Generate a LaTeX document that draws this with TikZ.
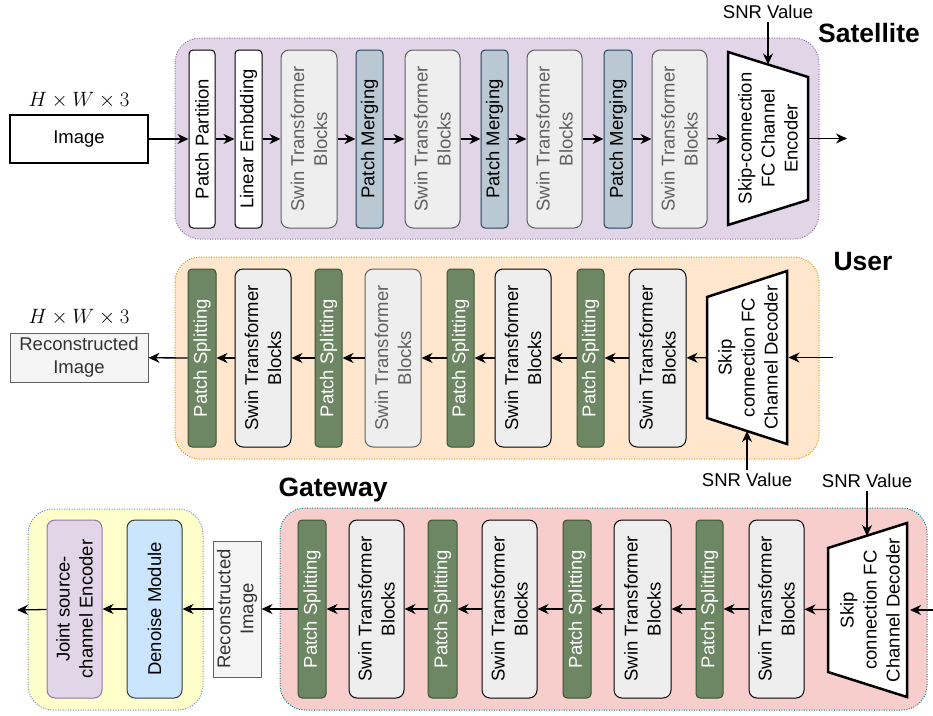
\documentclass[tikz,border=0pt]{standalone}
\usepackage{fontspec}
\setmainfont{Liberation Sans}
\usetikzlibrary{arrows.meta}
\definecolor{satfill}{HTML}{E1D5E7}
\definecolor{satdraw}{HTML}{9673A6}
\definecolor{userfill}{HTML}{FFE6CC}
\definecolor{userdraw}{HTML}{D79B00}
\definecolor{gwfill}{HTML}{F8CECC}
\definecolor{gwdraw}{HTML}{0E8088}
\definecolor{yelfill}{HTML}{FFFFCC}
\definecolor{yeldraw}{HTML}{6C8EBF}
\definecolor{mergefill}{HTML}{BAC8D3}
\definecolor{mergedraw}{HTML}{23445D}
\definecolor{splitfill}{HTML}{6D8764}
\definecolor{splitdraw}{HTML}{3A5431}
\definecolor{swinfill}{HTML}{EEEEEE}
\definecolor{graytxt}{HTML}{606060}
\definecolor{reconfill}{HTML}{F5F5F5}
\definecolor{recontxt}{HTML}{333333}
\definecolor{denfill}{HTML}{CCE5FF}
\definecolor{dendraw}{HTML}{36393D}
\newcommand\fs{\fontsize{18.5}{23}\selectfont}
\newcommand\ttl{\fontsize{26.5}{30}\bfseries\selectfont}
% vertical (rotated) block: style, name, x1, x2, y1, y2, text
\newcommand\vblk[7]{\node[#1, rotate=90, minimum width={(#6-#5)*1pt}, minimum height={(#4-#3)*1pt}] (#2) at ({(#3+#4)/2},{(#5+#6)/2}) {#7};}
% horizontal block
\newcommand\hblk[7]{\node[#1, minimum width={(#4-#3)*1pt}, minimum height={(#6-#5)*1pt}] (#2) at ({(#3+#4)/2},{(#5+#6)/2}) {#7};}
\tikzset{
  blk/.style={line width=1pt, align=center, inner sep=0pt, font=\fs},
  wbox/.style={blk, draw=black, fill=white, text=black, rounded corners=4pt},
  merge/.style={blk, draw=mergedraw, fill=mergefill, text=black, rounded corners=4pt},
  split/.style={blk, draw=splitdraw, fill=splitfill, text=white, rounded corners=4pt},
  swing/.style={blk, draw=graytxt, fill=swinfill, text=graytxt, rounded corners=8pt},
  swinb/.style={blk, draw=black, fill=swinfill, text=black, rounded corners=8pt},
  recon/.style={blk, draw=graytxt, fill=reconfill, text=recontxt},
  plainbox/.style={blk, draw=black, fill=white, text=black, line width=1.3pt},
  denoise/.style={blk, draw=dendraw, fill=denfill, text=black, rounded corners=8pt},
  joint/.style={blk, draw=satdraw, fill=satfill, text=black, rounded corners=8pt},
  traptext/.style={blk},
  trapline/.style={draw=black, fill=white, line width=2.5pt, line join=miter},
  panel/.style={line width=1pt, dash pattern=on 1pt off 1.5pt, rounded corners=25pt},
  conn/.style={line width=1.3pt, -{Stealth[length=11pt,width=10pt,inset=3.5pt]}},
  dimlabel/.style={font=\fontsize{22}{26}\selectfont},
}
\begin{document}
\begin{tikzpicture}[x=1pt,y=-1pt, font=\fs]
\useasboundingbox (0,0) rectangle (933,715);
% panels
\draw[panel, fill=satfill, draw=satdraw] (175,38) rectangle (819,239);
\draw[panel, fill=userfill, draw=userdraw] (175,257) rectangle (819,459);
\draw[panel, fill=yelfill, draw=yeldraw] (28,509) rectangle (203,710);
\draw[panel, fill=gwfill, draw=gwdraw] (280,508) rectangle (927,710);

% titles
\node[font=\ttl] (tsat) at (869,33) {Satellite};
\node[font=\ttl] (tuser) at (863,262) {User};
\node[font=\ttl] (tgw) at (333,490) {Gateway};
\node[dimlabel] (dim1) at (79,100) {$H\times W\times 3$};
\node[dimlabel] (dim2) at (79,317) {$H\times W\times 3$};

% ===== Satellite row =====
\hblk{plainbox}{img}{10}{148}{115}{163}{Image}
\vblk{wbox}{pp}{189}{215}{50}{228}{Patch Partition}
\vblk{wbox}{le}{235}{262}{50}{228}{Linear Embdding}
\vblk{swing}{sa}{281}{337}{50}{228}{Swin Transformer\\Blocks}
\vblk{merge}{ma}{356}{383}{50}{228}{Patch Merging}
\vblk{swing}{sb}{405}{460}{50}{228}{Swin Transformer\\Blocks}
\vblk{merge}{mb}{481}{508}{50}{228}{Patch Merging}
\vblk{swing}{sc}{527}{582}{50}{228}{Swin Transformer\\Blocks}
\vblk{merge}{mc}{604}{632}{50}{228}{Patch Merging}
\vblk{swing}{sd}{652}{707}{50}{228}{Swin Transformer\\Blocks}
\draw[trapline] (728,52) -- (808,77) -- (808,200) -- (728,225) -- cycle;
\node[traptext, rotate=90, minimum width=173pt, minimum height=80pt] (enc) at (768,138.5) {Skip-connection\\FC Channel\\Encoder};
\coordinate (encout) at (847,138.5);
\node (snr1) at (768,12) {SNR Value};
\coordinate (snrt1) at (768,64.5);

\draw[conn] (img) -- (pp);
\draw[conn] (pp) -- (le);
\draw[conn] (le) -- (sa);
\draw[conn] (sa) -- (ma);
\draw[conn] (ma) -- (sb);
\draw[conn] (sb) -- (mb);
\draw[conn] (mb) -- (sc);
\draw[conn] (sc) -- (mc);
\draw[conn] (mc) -- (sd);
\draw[conn] (sd) -- (enc);
\draw[conn] (enc) -- (encout);
\draw[conn] (snr1) -- (snrt1);

% ===== User row =====
\hblk{recon}{rec1}{10}{148}{333}{382}{Reconstructed\\Image}
\vblk{split}{ua}{188}{216}{269}{447}{Patch Splitting}
\vblk{swinb}{ub}{235}{291}{269}{447}{Swin Transformer\\Blocks}
\vblk{split}{uc}{315}{342}{269}{447}{Patch Splitting}
\vblk{swing}{ud}{365}{421}{269}{447}{Swin Transformer\\Blocks}
\vblk{split}{ue}{447}{474}{269}{447}{Patch Splitting}
\vblk{swinb}{uf}{495}{551}{269}{447}{Swin Transformer\\Blocks}
\vblk{split}{ug}{577}{604}{269}{447}{Patch Splitting}
\vblk{swinb}{uh}{629}{686}{269}{447}{Swin Transformer\\Blocks}
\draw[trapline] (707,297) -- (787,271) -- (787,444) -- (707,418) -- cycle;
\node[traptext, rotate=90, minimum width=173pt, minimum height=80pt] (dec1) at (748,357.5) {Skip\\connection FC\\Channel Decoder};
\coordinate (decin1) at (833,357.5);
\node (snr2) at (747,480) {SNR Value};
\coordinate (snrt2) at (747,431);

\draw[conn] (decin1) -- (dec1);
\draw[conn] (dec1) -- (uh);
\draw[conn] (uh) -- (ug);
\draw[conn] (ug) -- (uf);
\draw[conn] (uf) -- (ue);
\draw[conn] (ue) -- (ud);
\draw[conn] (ud) -- (uc);
\draw[conn] (uc) -- (ub);
\draw[conn] (ub) -- (ua);
\draw[conn] (ua) -- (rec1);
\draw[conn] (snr2) -- (snrt2);

% ===== Gateway row =====
\vblk{joint}{ja}{47}{102}{520}{698}{Joint source-\\channel Encoder}
\vblk{denoise}{dn}{127}{182}{520}{698}{Denoise Module}
\vblk{recon}{rec2}{213}{261}{541}{677}{Reconstructed\\Image}
\vblk{split}{ga}{298}{326}{520}{698}{Patch Splitting}
\vblk{swinb}{gb}{349}{404}{520}{698}{Swin Transformer\\Blocks}
\vblk{split}{gc}{428}{457}{520}{698}{Patch Splitting}
\vblk{swinb}{gd}{482}{537}{520}{698}{Swin Transformer\\Blocks}
\vblk{split}{ge}{563}{591}{520}{698}{Patch Splitting}
\vblk{swinb}{gf}{614}{671}{520}{698}{Swin Transformer\\Blocks}
\vblk{split}{gg}{696}{723}{520}{698}{Patch Splitting}
\vblk{swinb}{gh}{749}{804}{520}{698}{Swin Transformer\\Blocks}
\draw[trapline] (828,548) -- (907,523) -- (907,697) -- (828,672) -- cycle;
\node[traptext, rotate=90, minimum width=174pt, minimum height=79pt] (dec2) at (870,610) {Skip\\connection FC\\Channel Decoder};
\coordinate (decin2) at (933,610);
\coordinate (gout) at (17,610);
\node (snr3) at (867,481) {SNR Value};
\coordinate (snrt3) at (867,536);

\draw[conn] (decin2) -- (dec2);
\draw[conn] (dec2) -- (gh);
\draw[conn] (gh) -- (gg);
\draw[conn] (gg) -- (gf);
\draw[conn] (gf) -- (ge);
\draw[conn] (ge) -- (gd);
\draw[conn] (gd) -- (gc);
\draw[conn] (gc) -- (gb);
\draw[conn] (gb) -- (ga);
\draw[conn] (ga) -- (rec2);
\draw[conn] (rec2) -- (dn);
\draw[conn] (dn) -- (ja);
\draw[conn] (ja) -- (gout);
\draw[conn] (snr3) -- (snrt3);
\end{tikzpicture}
\end{document}
